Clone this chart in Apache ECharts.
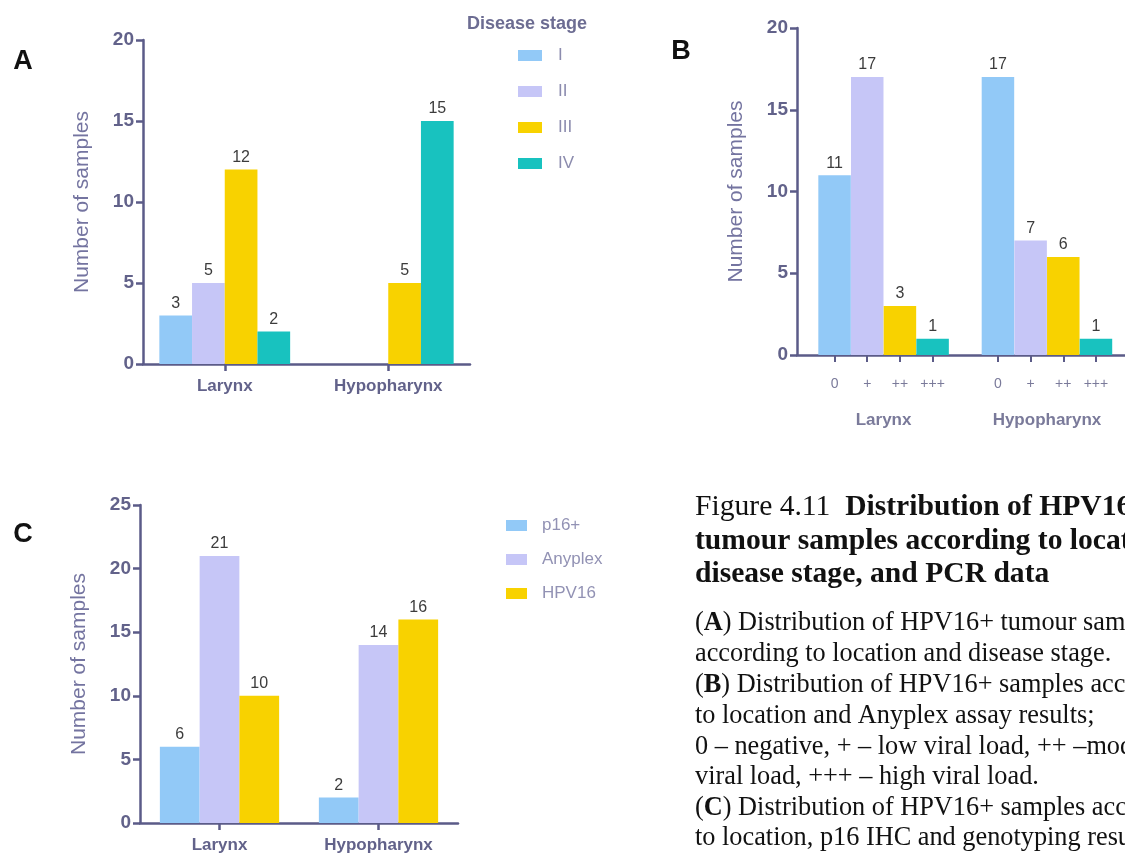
<!DOCTYPE html>
<html>
<head>
<meta charset="utf-8">
<script src="https://cdn.jsdelivr.net/npm/echarts@6/dist/echarts.min.js"></script>
<style>
  html, body { margin: 0; padding: 0; background: #fff; }
  #chart { width: 1125px; height: 856px; }
</style>
</head>
<body>
<div id="chart"></div>
<script>
// panel A: disease stage per location
const locations = ["Larynx", "Hypopharynx"];
const stages = ["I", "II", "III", "IV"];
const larynxStage = [3, 5, 12, 2];
const hypoStage = [0, 0, 5, 15];

// panel B: Anyplex viral load per location
const loadLevels = ["0", "+", "++", "+++"];
const larynxLoad = [11, 17, 3, 1];
const hypoLoad = [17, 7, 6, 1];

// panel C: p16 / Anyplex / HPV16 PCR per location
const assays = ["p16+", "Anyplex", "HPV16 E6/E7"];
const larynxAssay = [6, 21, 10];
const hypoAssay = [2, 14, 16];

const yTicksAB = [0, 5, 10, 15, 20];
const yTicksC = [0, 5, 10, 15, 20, 25];

const COLORS = ["#92c9f7", "#c6c6f7", "#f8d200", "#18c2bf"];
const AXIS_COLOR = "#5b5b88";
const TICK_TEXT = "#62628a";
const NAME_COLOR = "#7474a0";
const FONT = "Liberation Sans";

const valueLabel = {
  show: true,
  position: "top",
  distance: 4,
  fontSize: 16,
  fontFamily: FONT,
  color: "#3c3c3c",
  formatter: (p) => (p.value ? p.value : ""),
};

const axisLine = { show: true, onZero: false, lineStyle: { color: AXIS_COLOR, width: 2.5 } };
const axisTick = { show: true, length: 7, lineStyle: { color: AXIS_COLOR, width: 2.5 } };

const yAxisFor = (gridIndex, ticks) => ({
  type: "value",
  gridIndex,
  min: ticks[0],
  max: ticks[ticks.length - 1],
  interval: ticks[1] - ticks[0],
  name: "Number of samples",
  nameLocation: "middle",
  nameGap: 50,
  nameTextStyle: { fontSize: 21, fontFamily: FONT, color: NAME_COLOR },
  axisLine,
  axisTick,
  splitLine: { show: false },
  axisLabel: { margin: 9, fontSize: 19, fontWeight: "bold", fontFamily: FONT, color: TICK_TEXT },
});

const catAxisFor = (gridIndex) => ({
  type: "category",
  gridIndex,
  data: locations,
  axisLine,
  axisTick: { ...axisTick, alignWithLabel: true },
  axisLabel: { margin: 14, fontSize: 17, fontWeight: "bold", fontFamily: FONT, color: TICK_TEXT },
});

// panel B uses a value axis so each load level gets its own tick, with a gap between locations
const loadPos = (g, k) => g * (loadLevels.length + 1) + k;
const loadTickValues = [];
locations.forEach((_, g) => loadLevels.forEach((_, k) => loadTickValues.push(loadPos(g, k))));
const loadData = [];
[larynxLoad, hypoLoad].forEach((vals, g) =>
  vals.forEach((v, k) =>
    loadData.push({ value: [loadPos(g, k), v], itemStyle: { color: COLORS[k] } })
  )
);
const groupMid = (loadLevels.length - 1) / 2;

const series = [];
stages.forEach((s, i) => {
  series.push({
    name: s,
    type: "bar",
    xAxisIndex: 0,
    yAxisIndex: 0,
    barGap: "0%",
    barCategoryGap: "20%",
    itemStyle: { color: COLORS[i] },
    label: valueLabel,
    data: [larynxStage[i], hypoStage[i]],
  });
});
series.push({
  name: "Viral load",
  type: "bar",
  xAxisIndex: 1,
  yAxisIndex: 1,
  barWidth: 32.5,
  label: { ...valueLabel, formatter: (p) => p.value[1] },
  data: loadData,
});
assays.forEach((a, i) => {
  series.push({
    name: a,
    type: "bar",
    xAxisIndex: 3,
    yAxisIndex: 2,
    barGap: "0%",
    barCategoryGap: "25%",
    itemStyle: { color: COLORS[i] },
    label: valueLabel,
    data: [larynxAssay[i], hypoAssay[i]],
  });
});

const serif = "Liberation Serif";
const captionLines = [
  { y: 507, text: "Figure 4.11  {b|Distribution of HPV16+}", title: true },
  { y: 541, text: "{b|tumour samples according to location,}", title: true },
  { y: 574, text: "{b|disease stage, and PCR data}", title: true },
  { y: 623, text: "({b|A}) Distribution of HPV16+ tumour samples" },
  { y: 654, text: "according to location and disease stage." },
  { y: 685, text: "({b|B}) Distribution of HPV16+ samples according" },
  { y: 716, text: "to location and Anyplex assay results;" },
  { y: 747, text: "0 \u2013 negative, + \u2013 low viral load, ++ \u2013moderate" },
  { y: 777, text: "viral load, +++ \u2013 high viral load." },
  { y: 808, text: "({b|C}) Distribution of HPV16+ samples according" },
  { y: 838, text: "to location, p16 IHC and genotyping results." },
];

const letter = (t, x, y) => ({
  type: "text", x, y,
  style: { text: t, font: "bold 27px " + FONT, fill: "#111", align: "center", verticalAlign: "middle" },
});

const graphic = [letter("A", 23, 62), letter("B", 681, 52), letter("C", 23, 535)].concat(
  captionLines.map((l) => {
    const size = l.title ? 29.6 : 26.3;
    return {
      type: "text",
      x: 695,
      y: l.y,
      style: {
        text: l.text,
        fontFamily: serif,
        fontSize: size,
        fill: "#111",
        verticalAlign: "middle",
        rich: { b: { fontFamily: serif, fontSize: size, fontWeight: "bold", fill: "#111" } },
      },
    };
  })
);

const chart = echarts.init(document.getElementById("chart"), null, { renderer: "canvas" });
chart.setOption({
  animation: false,
  backgroundColor: "#fff",
  title: {
    text: "Disease stage",
    left: 467,
    top: 15,
    padding: 0,
    textStyle: { fontSize: 18, fontWeight: "bold", fontFamily: FONT, color: "#6c6c92" },
  },
  legend: [
    {
      data: stages,
      orient: "vertical",
      left: 518,
      top: 47,
      itemWidth: 24,
      itemHeight: 11,
      itemGap: 19,
      icon: "rect",
      selectedMode: false,
      padding: 0,
      textStyle: { fontSize: 17, fontFamily: FONT, color: "#8c8cae", padding: [0, 0, 0, 11] },
    },
    {
      data: assays,
      orient: "vertical",
      left: 506,
      top: 517,
      itemWidth: 21,
      itemHeight: 11,
      itemGap: 17,
      icon: "rect",
      selectedMode: false,
      padding: 0,
      textStyle: {
        fontSize: 17, fontFamily: FONT, color: "#9292b4", padding: [0, 0, 0, 10],
        width: 68, overflow: "truncate", ellipsis: "",
      },
    },
  ],
  grid: [
    { left: 143, top: 40, width: 327, height: 324, outerBoundsMode: "none", containLabel: false },
    { left: 797, top: 28, width: 330, height: 327, outerBoundsMode: "none", containLabel: false },
    { left: 140, top: 505, width: 318, height: 318, outerBoundsMode: "none", containLabel: false },
  ],
  xAxis: [
    catAxisFor(0),
    {
      type: "value",
      gridIndex: 1,
      position: "bottom",
      min: -1.15,
      max: 8.95,
      axisLine,
      splitLine: { show: false },
      axisTick: { ...axisTick, lineStyle: { color: AXIS_COLOR, width: 2 }, customValues: loadTickValues },
      axisLabel: {
        customValues: loadTickValues,
        margin: 22,
        fontSize: 14,
        fontFamily: FONT,
        color: "#7a7a9a",
        formatter: (v) => loadLevels[Math.round(v) % (loadLevels.length + 1)],
      },
    },
    {
      type: "value",
      gridIndex: 1,
      position: "bottom",
      offset: 0,
      min: -1.15,
      max: 8.95,
      axisLine: { show: false },
      axisTick: { show: false },
      splitLine: { show: false },
      axisLabel: {
        customValues: locations.map((_, g) => loadPos(g, groupMid)),
        margin: 57,
        fontSize: 17,
        fontWeight: "bold",
        fontFamily: FONT,
        color: "#7a7a9a",
        formatter: (v) => locations[Math.round((v - groupMid) / (loadLevels.length + 1))],
      },
    },
    catAxisFor(2),
  ],
  yAxis: [yAxisFor(0, yTicksAB), yAxisFor(1, yTicksAB), yAxisFor(2, yTicksC)],
  series,
  graphic,
});
</script>
</body>
</html>
